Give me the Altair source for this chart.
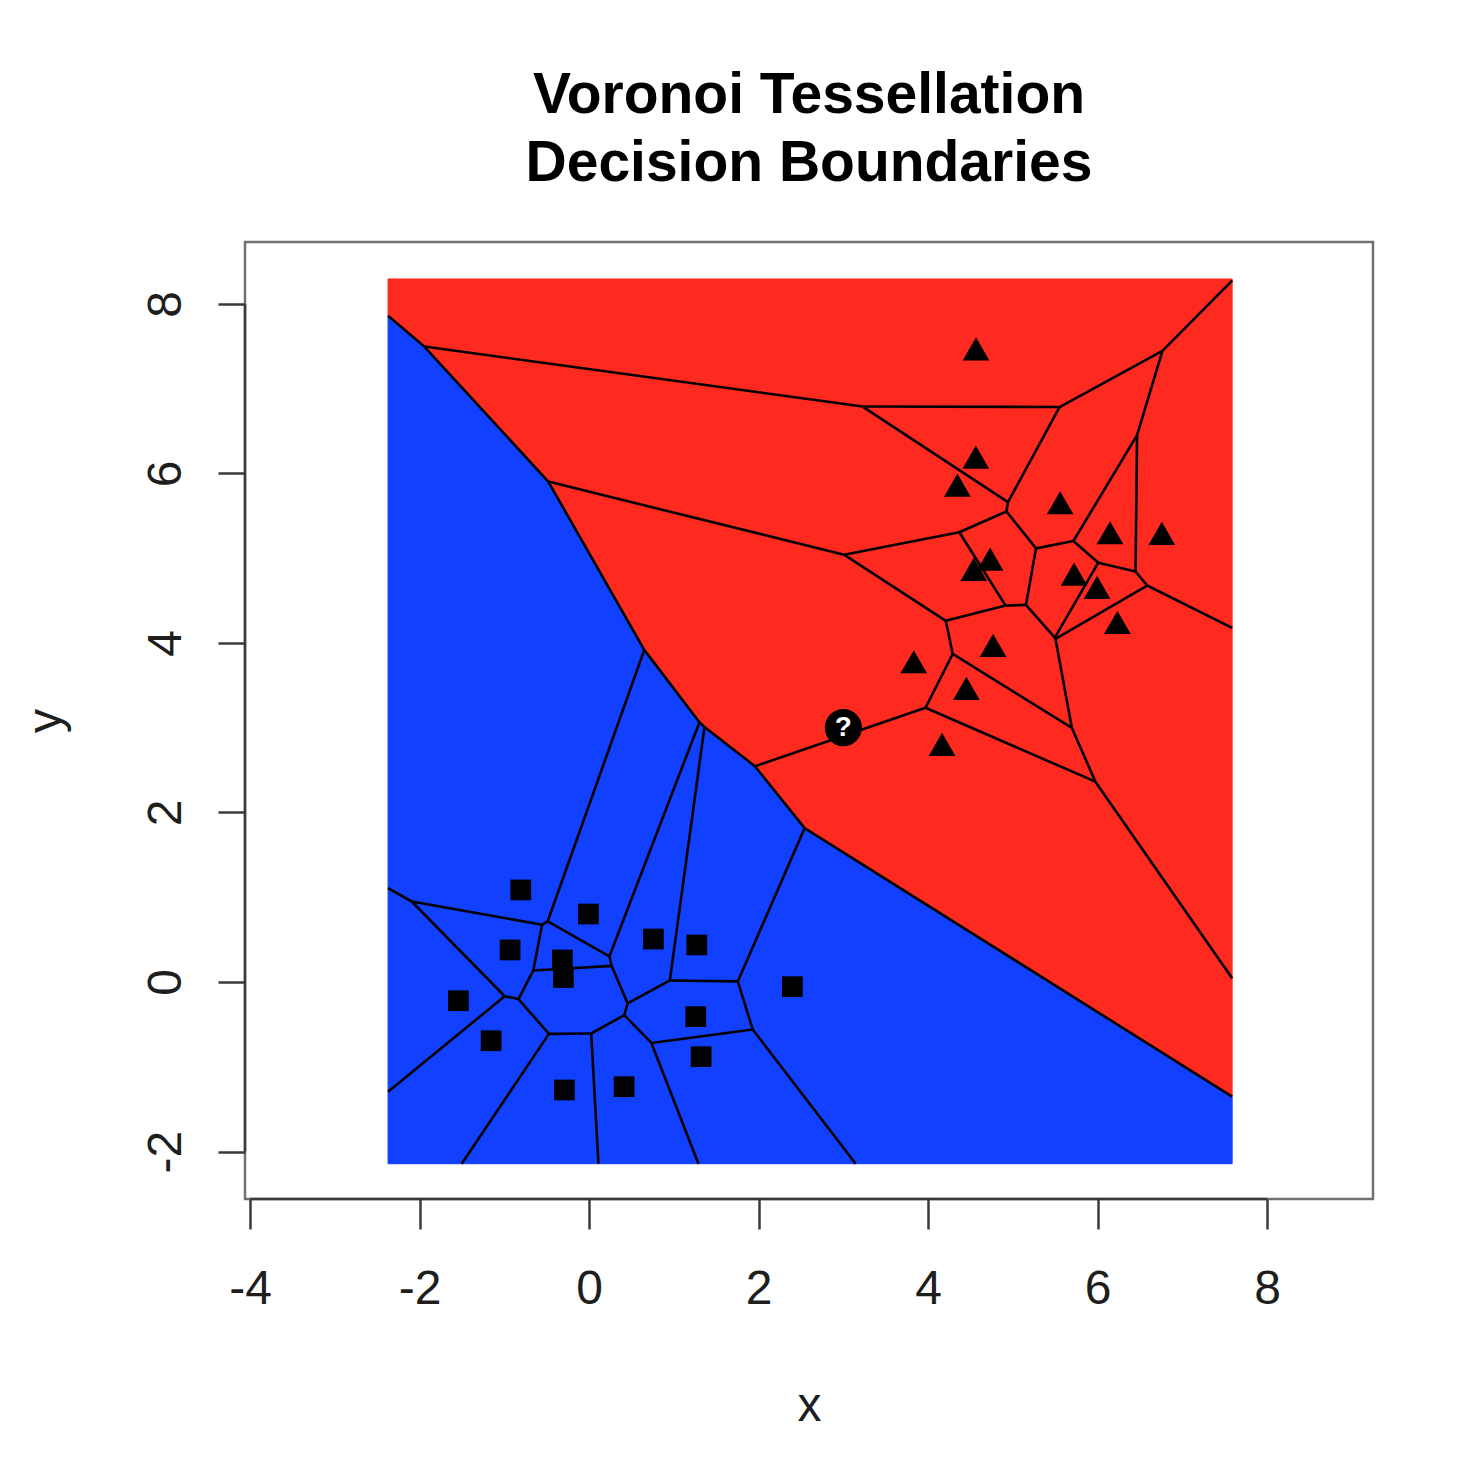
import altair as alt
import numpy as np
import pandas as pd

# ---------------- data ----------------
# class "square" (blue) training points
sq_x = [-0.806, -0.008, -0.932, -0.315, -0.303, 0.759, 1.271, -1.542, -1.156, 2.399, 1.259, 1.322, 0.413, -0.291]
sq_y = [1.086, 0.802, 0.378, 0.260, 0.053, 0.507, 0.437, -0.221, -0.693, -0.055, -0.409, -0.881, -1.235, -1.274]
# class "triangle" (red) training points
tri_x = [4.566, 4.563, 4.346, 5.558, 6.147, 6.758, 4.732, 4.539, 5.723, 5.994, 6.234, 4.767, 3.831, 4.452, 4.165]
tri_y = [7.424, 6.147, 5.817, 5.608, 5.254, 5.247, 4.944, 4.822, 4.767, 4.610, 4.197, 3.926, 3.732, 3.418, 2.758]
# point to classify
query_x = [3.0]
query_y = [3.0]
query_label = ["?"]

x_ticks = [-4, -2, 0, 2, 4, 6, 8]
y_ticks = [-2, 0, 2, 4, 6, 8]
title_lines = ["Voronoi Tessellation", "Decision Boundaries"]

# ---------------- Voronoi tessellation (bounded box = range +/- 10%) ----------------
sites = np.column_stack([sq_x + tri_x, sq_y + tri_y]).astype(float)
site_cls = ["square"] * len(sq_x) + ["triangle"] * len(tri_x)
dx = sites[:, 0].max() - sites[:, 0].min()
dy = sites[:, 1].max() - sites[:, 1].min()
bx0, bx1 = sites[:, 0].min() - 0.1 * dx, sites[:, 0].max() + 0.1 * dx
by0, by1 = sites[:, 1].min() - 0.1 * dy, sites[:, 1].max() + 0.1 * dy


def clip(poly, a, b, c):
    out = []
    n = len(poly)
    for k in range(n):
        P, Q = poly[k], poly[(k + 1) % n]
        fp = a * P[0] + b * P[1] - c
        fq = a * Q[0] + b * Q[1] - c
        if fp <= 0:
            out.append(P)
        if (fp < 0 < fq) or (fq < 0 < fp):
            t = fp / (fp - fq)
            out.append((P[0] + t * (Q[0] - P[0]), P[1] + t * (Q[1] - P[1])))
    return out


cell_rows = []
edges = {}
eps = 1e-7
for i, pi in enumerate(sites):
    poly = [(bx0, by0), (bx1, by0), (bx1, by1), (bx0, by1)]
    for j, pj in enumerate(sites):
        if i == j:
            continue
        a, b = 2 * (pj - pi)
        c = pj @ pj - pi @ pi
        poly = clip(poly, a, b, c)
    clean = []
    for v in poly:
        if not clean or abs(v[0] - clean[-1][0]) + abs(v[1] - clean[-1][1]) > eps:
            clean.append(v)
    if len(clean) > 1 and abs(clean[0][0] - clean[-1][0]) + abs(clean[0][1] - clean[-1][1]) < eps:
        clean.pop()
    for k, v in enumerate(clean + [clean[0]]):
        cell_rows.append({"cell": i, "idx": k, "x": v[0], "y": v[1], "cls": site_cls[i]})
    n = len(clean)
    for k in range(n):
        P, Q = clean[k], clean[(k + 1) % n]
        on_box = (
            (abs(P[0] - bx0) < eps and abs(Q[0] - bx0) < eps)
            or (abs(P[0] - bx1) < eps and abs(Q[0] - bx1) < eps)
            or (abs(P[1] - by0) < eps and abs(Q[1] - by0) < eps)
            or (abs(P[1] - by1) < eps and abs(Q[1] - by1) < eps)
        )
        if on_box:
            continue
        key = tuple(sorted([(round(P[0], 5), round(P[1], 5)), (round(Q[0], 5), round(Q[1], 5))]))
        edges[key] = {"x": P[0], "y": P[1], "x2": Q[0], "y2": Q[1]}

cells_df = pd.DataFrame(cell_rows)
edges_df = pd.DataFrame(list(edges.values()))
points_df = pd.DataFrame({"x": sites[:, 0], "y": sites[:, 1], "cls": site_cls})
query_df = pd.DataFrame({"x": query_x, "y": query_y, "label": query_label})

# ---------------- styling ----------------
FONT = "Liberation Sans"
RED = "#FF2A1F"
BLUE = "#1240FF"
XMIN, XMAX = -4.06, 9.25
YMIN, YMAX = -2.56, 8.73
W, H = 1128, 957

xs = alt.Scale(domain=[XMIN, XMAX], nice=False, zero=False)
ys = alt.Scale(domain=[YMIN, YMAX], nice=False, zero=False)

xaxis = alt.Axis(
    title="x", values=x_ticks, labelExpr="'' + datum.value", domain=False, grid=False,
    tickSize=30, tickWidth=2.5, tickColor="#3a3a3a",
    labelPadding=74, labelBaseline="alphabetic", labelAlign="center",
    labelFont=FONT, labelFontSize=48, labelColor="#1e1e1e", labelFlush=False, labelOverlap=False,
    titleFont=FONT, titleFontSize=48, titleFontWeight="normal", titleColor="#1e1e1e",
    titleBaseline="alphabetic", titleAlign="center", titleX=W / 2, titleY=221, zindex=1,
)
yaxis = alt.Axis(
    title="y", values=y_ticks, labelExpr="'' + datum.value", domain=False, grid=False,
    tickSize=27, tickWidth=2.5, tickColor="#3a3a3a",
    labelAngle=270, labelPadding=38, labelBaseline="alphabetic", labelAlign="center",
    labelFont=FONT, labelFontSize=48, labelColor="#1e1e1e", labelFlush=False, labelOverlap=False,
    titleFont=FONT, titleFontSize=48, titleFontWeight="normal", titleColor="#1e1e1e",
    titleAngle=270, titleBaseline="alphabetic", titleAlign="center", titleX=-185, titleY=H / 2, zindex=1,
)

cls_scale = alt.Scale(domain=["square", "triangle"], range=[BLUE, RED])

cells = alt.Chart(cells_df).mark_line(strokeWidth=1, interpolate="linear").encode(
    x=alt.X("x:Q", scale=xs, axis=xaxis),
    y=alt.Y("y:Q", scale=ys, axis=yaxis),
    detail="cell:N",
    order=alt.Order("idx:Q"),
    fill=alt.Fill("cls:N", scale=cls_scale, legend=None),
    stroke=alt.Stroke("cls:N", scale=cls_scale, legend=None),
)

edge_layer = alt.Chart(edges_df).mark_rule(color="black", strokeWidth=2.6).encode(
    x=alt.X("x:Q", scale=xs, axis=xaxis),
    y=alt.Y("y:Q", scale=ys, axis=yaxis),
    x2="x2:Q",
    y2="y2:Q",
)

squares = alt.Chart(points_df).transform_filter(alt.datum.cls == "square").mark_point(
    shape="square", filled=True, color="black", opacity=1, size=430
).encode(x=alt.X("x:Q", scale=xs, axis=xaxis), y=alt.Y("y:Q", scale=ys, axis=yaxis))

triangles = alt.Chart(points_df).transform_filter(alt.datum.cls == "triangle").mark_point(
    shape="M0,-1L0.866,0.5L-0.866,0.5Z", filled=True, color="black", opacity=1, size=950
).encode(x=alt.X("x:Q", scale=xs, axis=xaxis), y=alt.Y("y:Q", scale=ys, axis=yaxis))

q_circle = alt.Chart(query_df).mark_circle(color="black", opacity=1, size=1385).encode(
    x=alt.X("x:Q", scale=xs, axis=xaxis), y=alt.Y("y:Q", scale=ys, axis=yaxis)
)
q_text = alt.Chart(query_df).mark_text(
    color="white", font=FONT, fontSize=28, fontWeight="bold", baseline="middle", align="center"
).encode(x=alt.X("x:Q", scale=xs, axis=xaxis), y=alt.Y("y:Q", scale=ys, axis=yaxis), text="label:N")

one = alt.Data(values=[{}])
box = alt.Chart(one).mark_rect(filled=False, stroke="#707070", strokeWidth=2.5).encode(
    x=alt.X(datum=XMIN, scale=xs, axis=xaxis), x2=alt.X2(datum=XMAX),
    y=alt.Y(datum=YMIN, scale=ys, axis=yaxis), y2=alt.Y2(datum=YMAX),
)
x_line = alt.Chart(one).mark_rule(color="#3a3a3a", strokeWidth=2.5).encode(
    x=alt.X(datum=x_ticks[0], scale=xs, axis=xaxis), x2=alt.X2(datum=x_ticks[-1]),
    y=alt.Y(datum=YMIN, scale=ys, axis=yaxis),
)
y_line = alt.Chart(one).mark_rule(color="#3a3a3a", strokeWidth=2.5).encode(
    y=alt.Y(datum=y_ticks[0], scale=ys, axis=yaxis), y2=alt.Y2(datum=y_ticks[-1]),
    x=alt.X(datum=XMIN, scale=xs, axis=xaxis),
)

chart = alt.layer(
    cells, edge_layer, squares, triangles, q_circle, q_text, box, x_line, y_line
).properties(
    width=W,
    height=H,
    title=alt.TitleParams(
        text=title_lines, font=FONT, fontSize=57, fontWeight="bold", color="black",
        lineHeight=68, anchor="middle", frame="group", baseline="bottom", offset=-9,
    ),
    autosize=alt.AutoSizeParams(type="none"),
    padding={"left": 237, "top": 234, "right": 80, "bottom": 250},
    background="white",
).configure_view(stroke="transparent")

chart.save("out.html", embed_options={"renderer": "svg", "actions": False})
